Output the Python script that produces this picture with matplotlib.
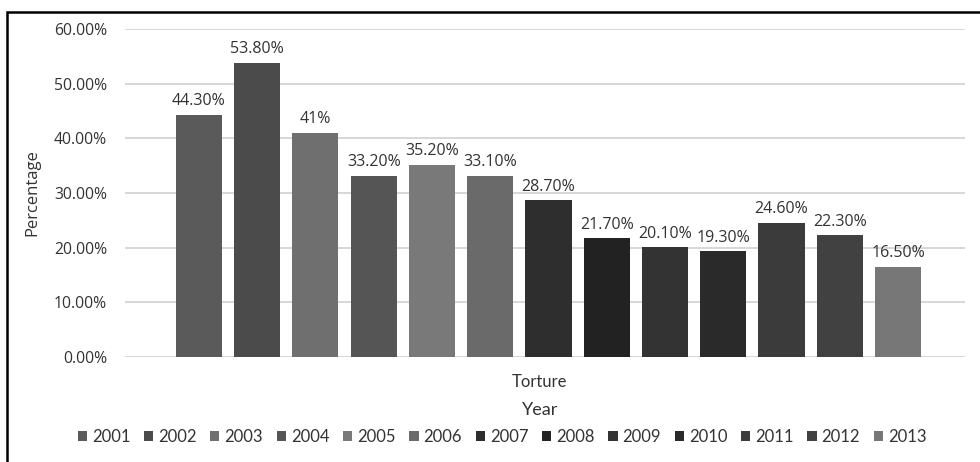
import matplotlib.pyplot as plt
from matplotlib.patches import Rectangle
from matplotlib.ticker import PercentFormatter

years = ['2001', '2002', '2003', '2004', '2005', '2006', '2007',
         '2008', '2009', '2010', '2011', '2012', '2013']
values = [44.3, 53.8, 41.0, 33.2, 35.2, 33.1, 28.7, 21.7, 20.1, 19.3, 24.6, 22.3, 16.5]
labels = ['44.30%', '53.80%', '41%', '33.20%', '35.20%', '33.10%', '28.70%',
          '21.70%', '20.10%', '19.30%', '24.60%', '22.30%', '16.50%']
colors = ['#5a5a5a', '#4b4b4b', '#6f6f6f', '#555555', '#797979', '#6a6a6a', '#2e2e2e',
          '#222222', '#333333', '#2a2a2a', '#3b3b3b', '#414141', '#777777']

plt.rcParams['font.family'] = ['Open Sans', 'DejaVu Sans']

fig = plt.figure(figsize=(9.8, 4.62), dpi=100)
ax = fig.add_axes([125 / 980, 105 / 462, 840 / 980, 328 / 462])

bars = []
for i in range(len(years)):
    b = ax.bar(i, values[i], width=0.79, color=colors[i], label=years[i], zorder=3)
    bars.append(b)
    ax.annotate(labels[i], (i, values[i]), xytext=(0, 4), textcoords='offset points',
                ha='center', va='bottom', fontsize=11.5, color='#333333')

ax.set_ylim(0, 60)
ax.set_xlim(-1.27, 13.15)
ax.set_yticks(range(0, 61, 10))
ax.yaxis.set_major_formatter(PercentFormatter(decimals=2))
ax.tick_params(axis='y', length=0, labelsize=11.3, labelcolor='#333333', pad=13)
ax.set_xticks([])
ax.grid(axis='y', color='#d4d4d4', linewidth=1.3, zorder=0)
for s in ax.spines.values():
    s.set_visible(False)

ax.set_ylabel('Percentage', fontsize=12, color='#333333', labelpad=10)

fig.text(540 / 980, 1 - 382 / 462, 'Torture', ha='center', va='center',
         fontsize=12, color='#333333', family='Lato')
fig.text(540 / 980, 1 - 410 / 462, 'Year', ha='center', va='center',
         fontsize=13, color='#333333', family='Lato')

leg = fig.legend(handles=bars, labels=years, loc='center', ncol=13,
                 bbox_to_anchor=(502 / 980, 1 - 437 / 462), frameon=False,
                 handlelength=0.55, handleheight=0.55, handletextpad=0.3,
                 columnspacing=0.82, prop={'family': 'Lato', 'size': 12})
for t in leg.get_texts():
    t.set_color('#333333')

fig.patches.append(Rectangle((7 / 980, -0.1), 1.2, 1.1 - 12 / 462,
                             transform=fig.transFigure, fill=False,
                             edgecolor='black', linewidth=1.8))

fig.savefig('out.png', dpi=100)
